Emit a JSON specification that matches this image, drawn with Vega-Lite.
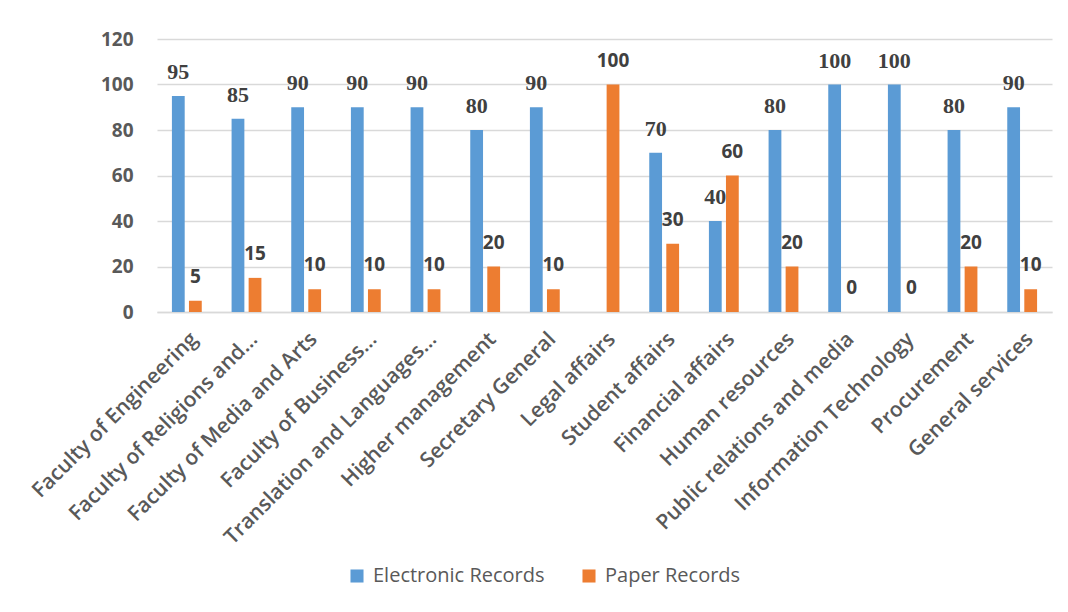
{
  "$schema": "https://vega.github.io/schema/vega-lite/v6.json",
  "width": 895,
  "height": 273,
  "autosize": {"type": "none"},
  "padding": {"left": 157, "top": 39, "right": 16, "bottom": 300},
  "background": "white",
  "config": {
    "view": {"stroke": null}
  },
  "data": {
    "values": [
      {"category": "Faculty of Engineering", "type": "Electronic Records", "value": 95},
      {"category": "Faculty of Engineering", "type": "Paper Records", "value": 5},
      {"category": "Faculty of Religions and…", "type": "Electronic Records", "value": 85},
      {"category": "Faculty of Religions and…", "type": "Paper Records", "value": 15},
      {"category": "Faculty of Media and Arts", "type": "Electronic Records", "value": 90},
      {"category": "Faculty of Media and Arts", "type": "Paper Records", "value": 10},
      {"category": "Faculty of Business…", "type": "Electronic Records", "value": 90},
      {"category": "Faculty of Business…", "type": "Paper Records", "value": 10},
      {"category": "Translation and Languages…", "type": "Electronic Records", "value": 90},
      {"category": "Translation and Languages…", "type": "Paper Records", "value": 10},
      {"category": "Higher management", "type": "Electronic Records", "value": 80},
      {"category": "Higher management", "type": "Paper Records", "value": 20},
      {"category": "Secretary General", "type": "Electronic Records", "value": 90},
      {"category": "Secretary General", "type": "Paper Records", "value": 10},
      {"category": "Legal affairs", "type": "Electronic Records", "value": 0},
      {"category": "Legal affairs", "type": "Paper Records", "value": 100},
      {"category": "Student affairs", "type": "Electronic Records", "value": 70},
      {"category": "Student affairs", "type": "Paper Records", "value": 30},
      {"category": "Financial affairs", "type": "Electronic Records", "value": 40},
      {"category": "Financial affairs", "type": "Paper Records", "value": 60},
      {"category": "Human resources", "type": "Electronic Records", "value": 80},
      {"category": "Human resources", "type": "Paper Records", "value": 20},
      {"category": "Public relations and media", "type": "Electronic Records", "value": 100},
      {"category": "Public relations and media", "type": "Paper Records", "value": 0},
      {"category": "Information Technology", "type": "Electronic Records", "value": 100},
      {"category": "Information Technology", "type": "Paper Records", "value": 0},
      {"category": "Procurement", "type": "Electronic Records", "value": 80},
      {"category": "Procurement", "type": "Paper Records", "value": 20},
      {"category": "General services", "type": "Electronic Records", "value": 90},
      {"category": "General services", "type": "Paper Records", "value": 10}
    ]
  },
  "encoding": {
    "x": {
      "field": "category",
      "type": "nominal",
      "sort": null,
      "scale": {"paddingInner": 0.5, "paddingOuter": 0.25},
      "axis": {
        "title": null,
        "labelAngle": -45,
        "labelAlign": "right",
        "labelBaseline": "top",
        "labelFont": "Open Sans",
        "labelFontSize": 21,
        "labelFontWeight": 600,
        "labelColor": "#595959",
        "labelLimit": 0,
        "labelPadding": 16,
        "ticks": false,
        "domainColor": "#D9D9D9",
        "domainWidth": 1.5
      }
    },
    "xOffset": {
      "field": "type",
      "type": "nominal",
      "scale": {"paddingInner": 0.25}
    },
    "y": {
      "field": "value",
      "type": "quantitative",
      "scale": {"domain": [0, 120]},
      "axis": {
        "title": null,
        "values": [0, 20, 40, 60, 80, 100, 120],
        "domain": false,
        "ticks": false,
        "labelPadding": 24,
        "labelFont": "Open Sans",
        "labelFontSize": 19,
        "labelFontWeight": "bold",
        "labelColor": "#595959",
        "gridColor": "#D9D9D9",
        "gridWidth": 1.5
      }
    }
  },
  "layer": [
    {
      "mark": {"type": "bar"},
      "encoding": {
        "color": {
          "field": "type",
          "type": "nominal",
          "scale": {"domain": ["Electronic Records", "Paper Records"], "range": ["#5B9BD5", "#ED7D31"]},
          "legend": {
            "title": null,
            "orient": "none",
            "legendX": 190,
            "legendY": 527,
            "direction": "horizontal",
            "symbolType": "square",
            "symbolSize": 170,
            "symbolStrokeWidth": 0,
            "labelFont": "Open Sans",
            "labelFontSize": 20,
            "labelColor": "#595959",
            "labelLimit": 0,
            "labelOffset": 6,
            "columnPadding": 34
          }
        }
      }
    },
    {
      "transform": [
        {"filter": "datum.type == 'Electronic Records' && datum.value > 0"}
      ],
      "mark": {
        "type": "text",
        "font": "Liberation Serif, Times New Roman, serif",
        "fontWeight": "bold",
        "fontSize": 22,
        "color": "#404040",
        "baseline": "middle",
        "dy": -24
      },
      "encoding": {"text": {"field": "value", "type": "quantitative"}}
    },
    {
      "transform": [
        {"filter": "datum.type == 'Paper Records'"}
      ],
      "mark": {
        "type": "text",
        "font": "Open Sans",
        "fontWeight": "bold",
        "fontSize": 19,
        "color": "#404040",
        "baseline": "middle",
        "dy": -24
      },
      "encoding": {"text": {"field": "value", "type": "quantitative"}}
    }
  ]
}
